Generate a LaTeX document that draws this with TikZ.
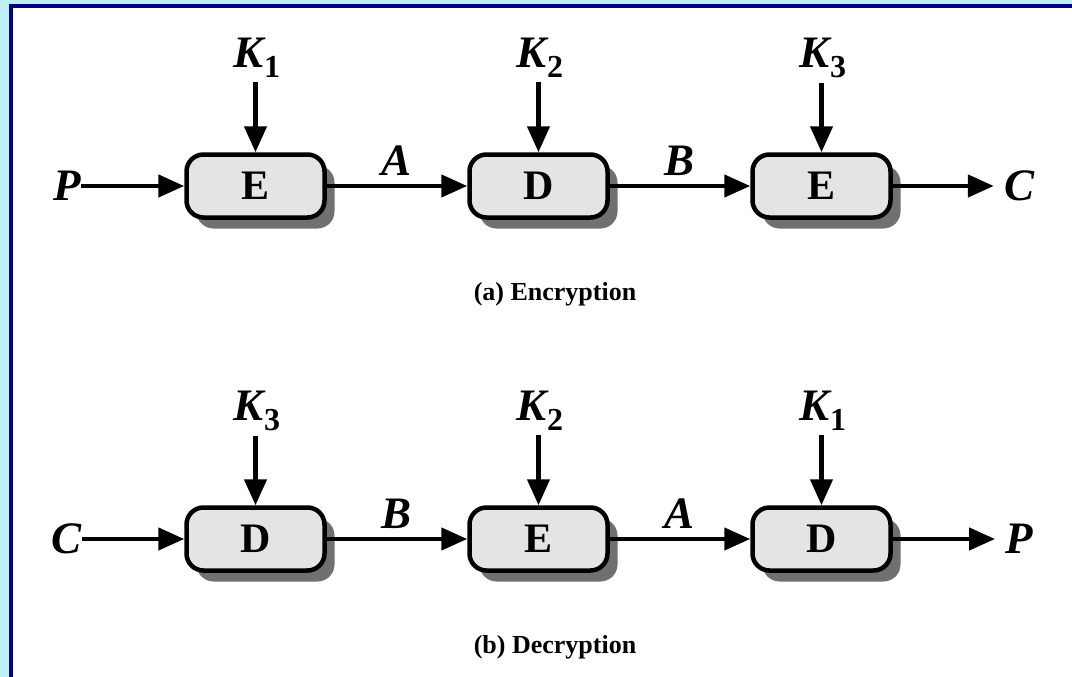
\documentclass[tikz,border=0pt]{standalone}
\usepackage{fontspec}
\setmainfont{Liberation Serif}
\usetikzlibrary{arrows.meta,shadows}
\definecolor{framecyan}{HTML}{BDEFF8}
\definecolor{framenavy}{HTML}{000080}
\definecolor{boxfill}{HTML}{E4E4E4}
\definecolor{shadowgray}{HTML}{707070}
\begin{document}
\begin{tikzpicture}[x=1pt,y=-1pt,
  cipher/.style={draw, line width=4.5pt, fill=boxfill, rounded corners=17pt,
    minimum width=138pt, minimum height=63pt, inner sep=0pt,
    font=\fontsize{42}{42}\selectfont\bfseries,
    drop shadow={shadow xshift=10pt, shadow yshift=-11pt, fill=shadowgray, opacity=1}},
  sym/.style={inner sep=0pt, font=\fontsize{45}{45}\selectfont\bfseries\itshape},
  keylbl/.style={inner sep=0pt, anchor=base, font=\fontsize{45}{45}\selectfont\bfseries\itshape},
  caption/.style={inner sep=0pt, font=\fontsize{26}{26}\selectfont\bfseries},
  flow/.style={line width=4.5pt, -{Triangle[length=26pt,width=22pt]}},
]
\newcommand{\keysub}[1]{K\raisebox{-10pt}{\upshape\fontsize{32}{32}\selectfont #1}}
% frame
\useasboundingbox (0,0) rectangle (1072,677);
\fill[framecyan] (0,0) rectangle (1072,677);
\fill[framenavy] (9,4) rectangle (1072,677);
\fill[white] (13,8) rectangle (1072,677);

% (a) encryption
\node[cipher] (e1) at (255.5,186) {E};
\node[cipher] (e2) at (538.5,186) {D};
\node[cipher] (e3) at (821.5,186) {E};
\node[keylbl] (ek1) at (257,67) {\keysub{1}};
\node[keylbl] (ek2) at (540,67) {\keysub{2}};
\node[keylbl] (ek3) at (823,67) {\keysub{3}};
\node[sym] (ep) at (67,186) {P};
\node[sym] (ec) at (1019,186) {C};
\draw[flow] (ep.east) -- (e1.west);
\draw[flow] (e1.east) -- node[sym, above=8pt] {A} (e2.west);
\draw[flow] (e2.east) -- node[sym, above=8pt] {B} (e3.west);
\draw[flow, shorten >=10pt] (e3.east) -- (ec.west);
\foreach \i in {1,2,3}
  \draw[flow] (ek\i.south -| e\i.north) ++(0,5) -- (e\i.north);
\node[caption] (capa) at (555,294) {(a) Encryption};

% (b) decryption
\node[cipher] (d1) at (255.5,539) {D};
\node[cipher] (d2) at (538.5,539) {E};
\node[cipher] (d3) at (821.5,539) {D};
\node[keylbl] (dk1) at (257,420) {\keysub{3}};
\node[keylbl] (dk2) at (540,420) {\keysub{2}};
\node[keylbl] (dk3) at (823,420) {\keysub{1}};
\node[sym] (dc) at (67,539) {C};
\node[sym] (dp) at (1019,539) {P};
\draw[flow] (dc.east) -- (d1.west);
\draw[flow] (d1.east) -- node[sym, above=8pt] {B} (d2.west);
\draw[flow] (d2.east) -- node[sym, above=8pt] {A} (d3.west);
\draw[flow, shorten >=10pt] (d3.east) -- (dp.west);
\foreach \i in {1,2,3}
  \draw[flow] (dk\i.south -| d\i.north) ++(0,5) -- (d\i.north);
\node[caption] (capb) at (555,647) {(b) Decryption};
\end{tikzpicture}
\end{document}
